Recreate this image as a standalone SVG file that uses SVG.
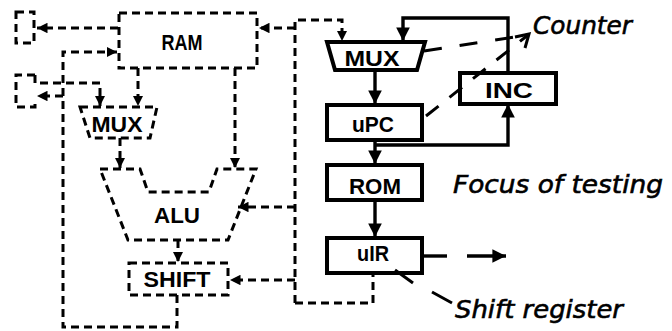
<svg xmlns="http://www.w3.org/2000/svg" width="672" height="331" viewBox="0 0 672 331">
<style>
.d{fill:none;stroke:#000;stroke-width:3;stroke-dasharray:8 5}
.s{fill:none;stroke:#000;stroke-width:3.4}
.b{fill:#fff;stroke:#000;stroke-width:4}
.l{font-family:"Liberation Sans",Arial,sans-serif;font-weight:bold;font-size:22px;text-anchor:middle}
.i{font-family:"DejaVu Sans",sans-serif;font-style:italic;font-size:25px;stroke:#000;stroke-width:0.6}
</style>
<defs>
<marker id="ad" viewBox="0 0 10 10" refX="10" refY="5" markerWidth="3.5" markerHeight="3.5" orient="auto" markerUnits="strokeWidth"><path d="M0,0L10,5L0,10z"/></marker>
<marker id="as" viewBox="0 0 10 10" refX="10" refY="5" markerWidth="4" markerHeight="4" orient="auto" markerUnits="strokeWidth"><path d="M0,0L10,5L0,10z"/></marker>
</defs>
<rect width="672" height="331" fill="#fff"/>
<g id="connectors">
<path class="d" d="M295,303V20H342V41" marker-end="url(#ad)"/>
<path class="d" d="M295,28H259" marker-end="url(#ad)"/>
<path class="d" d="M295,303H373V274"/>
<path class="d" d="M295,207H238" marker-end="url(#ad)"/>
<path class="d" d="M295,280H230" marker-end="url(#ad)"/>
<path class="d" d="M118,28H37" marker-end="url(#ad)"/>
<path class="d" d="M138,68V106" marker-end="url(#ad)"/>
<path class="d" d="M235,68V168" marker-end="url(#ad)"/>
<path class="d" d="M120,138V168" marker-end="url(#ad)"/>
<path class="d" d="M178,240V262" marker-end="url(#ad)"/>
<path class="d" d="M177,295V327H63V52H117" marker-end="url(#ad)"/>
<path class="d" d="M35,75V83H100V106" marker-end="url(#ad)"/>
<path class="d" d="M63,96H37" marker-end="url(#ad)"/>
<path class="s" d="M508,73V18H403V41" marker-end="url(#as)"/>
<path class="s" d="M375,70V104" marker-end="url(#as)"/>
<path class="s" d="M375,140V164" marker-end="url(#as)"/>
<path class="s" d="M375,145H508V104" marker-end="url(#as)"/>
<path class="s" d="M375,200V237" marker-end="url(#as)"/>
<path class="s" d="M422,256H447"/>
<path class="s" d="M467,256H506" marker-end="url(#as)"/>
</g>
<g id="brackets">
<rect class="d" x="16" y="12" width="18" height="31"/>
<path class="d" d="M35,75H16V107H35V100"/>
</g>
<g id="RAM"><rect class="d" x="119" y="13" width="138" height="55"/><text class="l" x="182" y="50" textLength="41" lengthAdjust="spacingAndGlyphs">RAM</text></g>
<g id="MUX-left"><path class="d" d="M80,107H157L150,138H90Z"/><text class="l" x="117" y="132" textLength="51" lengthAdjust="spacingAndGlyphs">MUX</text></g>
<g id="ALU"><path class="d" d="M100,169H140L148,192H209L217,169H256L228,240H128Z"/><text class="l" x="177" y="223" textLength="46" lengthAdjust="spacingAndGlyphs">ALU</text></g>
<g id="SHIFT"><rect class="d" x="129" y="263" width="99" height="32"/><text class="l" x="177" y="287" textLength="67" lengthAdjust="spacingAndGlyphs">SHIFT</text></g>
<g id="MUX-right"><path class="b" d="M327,42H425L417,70H335Z"/><text class="l" x="372" y="66" textLength="55" lengthAdjust="spacingAndGlyphs">MUX</text></g>
<g id="uPC"><rect class="b" x="327" y="105" width="95" height="35"/><text class="l" x="373" y="132" textLength="42" lengthAdjust="spacingAndGlyphs">uPC</text></g>
<g id="INC"><rect class="b" x="460" y="73" width="96" height="31"/><text class="l" x="509" y="98" textLength="48" lengthAdjust="spacingAndGlyphs">INC</text></g>
<g id="ROM"><rect class="b" x="327" y="165" width="95" height="35"/><text class="l" x="375" y="194" textLength="52" lengthAdjust="spacingAndGlyphs">ROM</text></g>
<g id="uIR"><rect class="b" x="327" y="238" width="95" height="35"/><text class="l" x="373" y="261" textLength="32" lengthAdjust="spacingAndGlyphs">uIR</text></g>
<g id="annotations">
<path fill="none" stroke="#000" stroke-width="3" stroke-dasharray="18 18" d="M424,51L528,35"/>
<path fill="none" stroke="#000" stroke-width="3" stroke-dasharray="16 14" d="M426,116L528,35"/>
<path fill="none" stroke="#000" stroke-width="3" d="M515,37L529,34L525,48"/>
<path fill="none" stroke="#000" stroke-width="3" d="M395,270L413,283M432,292L452,303"/>
<text class="i" x="533" y="34" textLength="99" lengthAdjust="spacingAndGlyphs">Counter</text>
<text class="i" x="453" y="193" textLength="210" lengthAdjust="spacingAndGlyphs">Focus of testing</text>
<text class="i" x="455" y="318" textLength="168" lengthAdjust="spacingAndGlyphs">Shift register</text>
</g>
</svg>
